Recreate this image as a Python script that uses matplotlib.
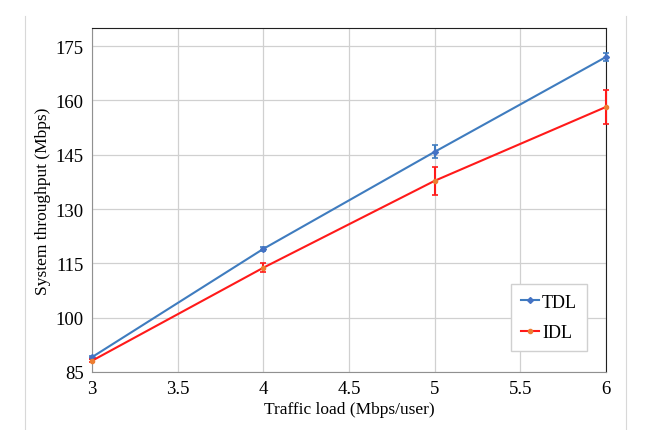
import matplotlib
matplotlib.use('Agg')
import matplotlib.pyplot as plt
from matplotlib.lines import Line2D

plt.rcParams['font.family'] = ['Liberation Serif', 'DejaVu Serif']

load = [3, 4, 5, 6]
tdl = [89.1, 119.0, 145.8, 172.0]
tdl_err = [0.4, 0.5, 1.8, 1.0]
idl = [88.1, 113.8, 137.8, 158.2]
idl_err = [0.4, 1.3, 3.9, 4.7]

xticks = [3, 3.5, 4, 4.5, 5, 5.5, 6]
yticks = [85, 100, 115, 130, 145, 160, 175]

fig = plt.figure(figsize=(6.61, 4.31), dpi=100)
ax = fig.add_axes([92/661, 1-373/431, (606-92)/661, (373-29)/431])

blue = '#3F7CBF'
red = '#FF1A1A'
ax.errorbar(load, tdl, yerr=tdl_err, color=blue, lw=1.5, marker='D', ms=3,
            mfc='#4472C4', mec='#4472C4', capsize=2, elinewidth=1.5, capthick=1.2,
            clip_on=False, zorder=3)
ax.errorbar(load, idl, yerr=idl_err, color=red, lw=1.5, marker='o', ms=3,
            mfc='#ED7D31', mec='#ED7D31', capsize=2, elinewidth=1.5, capthick=1.2,
            clip_on=False, zorder=3)

ax.set_xlim(3, 6)
ax.set_ylim(85, 180)
ax.set_xticks(xticks)
ax.set_xticklabels(['3', '3.5', '4', '4.5', '5', '5.5', '6'])
ax.set_yticks(yticks)
ax.grid(True, color='#D0D0D0', lw=0.9)
ax.set_axisbelow(True)
ax.tick_params(length=0, labelsize=13.5, pad=6)
for s in ['left', 'bottom']:
    ax.spines[s].set_color('#909090')
for s in ['top', 'right']:
    ax.spines[s].set_color('#202020')

ax.set_xlabel('Traffic load (Mbps/user)', fontsize=12.5, labelpad=3)
ax.set_ylabel('System throughput (Mbps)', fontsize=12.5, labelpad=3)

handles = [Line2D([], [], color=blue, lw=1.5, marker='D', ms=3, mfc='#4472C4', mec='#4472C4'),
           Line2D([], [], color=red, lw=1.5, marker='o', ms=3, mfc='#ED7D31', mec='#ED7D31')]
ax.legend(handles, ['TDL', 'IDL'], loc='lower right', bbox_to_anchor=(0.963, 0.061),
          borderaxespad=0, fontsize=13, handlelength=1.0, handletextpad=0.15,
          labelspacing=0.75, fancybox=False, edgecolor='#D0D0D0', framealpha=1,
          borderpad=0.55)

# figure frame lines
fig.add_artist(Line2D([25/661, 25/661], [0, 1-17/431], color='#D8D8D8', lw=0.8))
fig.add_artist(Line2D([626/661, 626/661], [0, 1-17/431], color='#D8D8D8', lw=0.8))

fig.savefig('out.png', dpi=100)
